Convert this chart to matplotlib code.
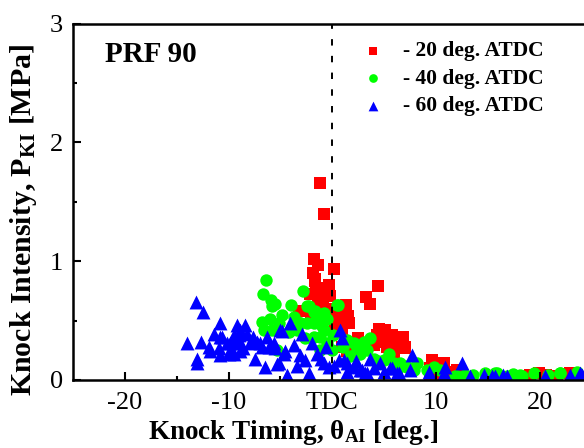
## Import
import matplotlib

matplotlib.use("Agg")
import matplotlib.pyplot as plt
import numpy as np

### Constants
plt.rcParams["font.family"] = ["Liberation Serif", "DejaVu Serif"]
plt.rcParams["mathtext.fontset"] = "custom"
plt.rcParams["mathtext.rm"] = "Liberation Serif"
plt.rcParams["mathtext.bf"] = "Liberation Serif:bold"
plt.rcParams["mathtext.it"] = "Liberation Serif:italic"

## Data (knock timing [deg], knock intensity [MPa])
red_x = [-1.16, -0.80, -1.80, -1.35, 0.12, -1.85, -1.65, 4.45, 3.28, 3.65,
         -1.57, -1.10, -0.36, -0.19, -2.15, -1.35, 1.30, 0.55, 1.55, 1.65,
         -3.20, -2.10, 0.64, -1.64, 4.53, 4.34, 5.79, 5.50, 6.78, 7.04,
         4.73, 5.91, 4.44, 5.27, 3.98, 0.93, 1.41, 5.11, 5.37, 6.88,
         9.61, 9.38, 10.73, 10.90, 9.45, 10.41, 12.02, 11.70, 9.93, 19.10,
         19.90, 22.95, 18.80, 21.70, -0.60, 0.30, 2.50, 4.95, 4.63, 12.0,
         -0.90, 0.90, 6.20, 10.10, 20.60]
red_y = [1.66, 1.40, 1.02, 0.97, 0.93, 0.90, 0.85, 0.79, 0.70, 0.64,
         0.76, 0.77, 0.80, 0.71, 0.72, 0.67, 0.63, 0.56, 0.54, 0.48,
         0.58, 0.53, 0.50, 0.83, 0.43, 0.38, 0.38, 0.31, 0.36, 0.28,
         0.32, 0.22, 0.37, 0.28, 0.29, 0.28, 0.24, 0.42, 0.32, 0.27,
         0.17, 0.10, 0.14, 0.07, 0.03, 0.10, 0.08, 0.04, 0.08, 0.04,
         0.06, 0.06, 0.01, 0.03, 0.60, 0.45, 0.35, 0.38, 0.32, 0.07,
         0.62, 0.40, 0.30, 0.05, 0.04]

green_x = [-6.36, -6.72, -5.91, -5.50, -5.80, -2.83, -3.98, -2.22, -1.80, -1.16,
           -0.51, 0.51, -6.78, -5.98, -4.85, -5.18, -5.82, -6.62, -3.73, -3.09,
           -3.40, -2.44, -1.80, -0.84, -1.16, -1.80, -0.51, -0.03, -1.16, -5.33,
           1.41, 2.05, 3.02, 3.66, 2.38, 3.35, 1.74, 5.43, 4.95, 5.91,
           7.20, 8.17, 7.84, 6.24, 9.77, 10.41, -2.44, 0.45, -1.64, -0.84,
           -1.80, -1.00, -3.09, 3.98, 6.56, 9.13, 12.02, 14.92, 15.88, 16.85,
           18.13, 19.42, 21.99, 23.60, 11.86, 12.83, 14.75, 15.70, 18.30, 22.00,
           -4.20, -2.60, 0.10, 1.00, 2.70, 4.40, 7.00, 13.60, 17.40, 20.80]
green_y = [0.84, 0.72, 0.67, 0.64, 0.62, 0.75, 0.63, 0.62, 0.57, 0.55,
           0.51, 0.63, 0.49, 0.51, 0.55, 0.48, 0.42, 0.42, 0.53, 0.48,
           0.42, 0.48, 0.48, 0.42, 0.36, 0.36, 0.31, 0.25, 0.25, 0.25,
           0.34, 0.31, 0.32, 0.35, 0.25, 0.25, 0.20, 0.22, 0.17, 0.14,
           0.11, 0.14, 0.08, 0.08, 0.11, 0.08, 0.62, 0.63, 0.58, 0.56,
           0.49, 0.45, 0.48, 0.18, 0.14, 0.08, 0.03, 0.04, 0.06, 0.03,
           0.04, 0.06, 0.06, 0.07, 0.03, 0.04, 0.06, 0.06, 0.03, 0.06,
           0.40, 0.35, 0.38, 0.28, 0.22, 0.16, 0.12, 0.04, 0.05, 0.04]

blue_x = [-13.10, -12.50, -14.00, -12.70, -13.05, -13.05, -11.90, -11.45, -10.87, -10.80,
          -10.96, -10.80, -9.84, -9.84, -9.52, -9.19, -8.87, -8.39, -8.23, -8.87,
          -9.52, -8.87, -7.43, -6.46, -5.33, -4.37, -6.94, -6.30, -5.66, -4.70,
          -4.05, -11.76, -10.64, -9.03, -10.15, -10.00, -7.91, -7.26, -6.78, -6.14,
          -5.50, -5.18, -4.85, -5.00, -2.92, -3.73, -4.53, -3.09, -1.96, -2.60,
          -1.48, -0.84, -0.36, 0.77, 0.93, 0.61, 1.41, 2.05, 2.70, 3.66,
          4.63, 4.95, -2.28, 1.41, 3.18, 1.09, 2.86, 3.34, 5.76, 6.24,
          7.69, 5.59, 6.39, 7.52, 9.29, 10.90, 10.73, 12.50, 13.30, 14.60,
          15.40, 16.50, 20.50, 22.95, 24.10, 15.70, 16.85, 23.90, -4.37,
          -9.30, -8.60, -7.60, -3.40, -1.10, 0.20, -0.60, 2.30, 4.00]
blue_y = [0.66, 0.57, 0.31, 0.32, 0.18, 0.14, 0.28, 0.39, 0.48, 0.36,
          0.27, 0.21, 0.25, 0.31, 0.38, 0.46, 0.42, 0.46, 0.39, 0.31,
          0.22, 0.24, 0.18, 0.11, 0.13, 0.03, 0.31, 0.36, 0.31, 0.22,
          0.48, 0.24, 0.36, 0.38, 0.31, 0.22, 0.31, 0.32, 0.28, 0.28,
          0.27, 0.14, 0.41, 0.42, 0.39, 0.29, 0.24, 0.21, 0.31, 0.17,
          0.22, 0.14, 0.11, 0.42, 0.35, 0.17, 0.14, 0.11, 0.08, 0.18,
          0.14, 0.07, 0.06, 0.07, 0.06, 0.17, 0.08, 0.06, 0.10, 0.06,
          0.21, 0.10, 0.06, 0.08, 0.07, 0.11, 0.06, 0.14, 0.03, 0.04,
          0.03, 0.04, 0.03, 0.04, 0.04, 0.03, 0.03, 0.06, 0.04,
          0.34, 0.27, 0.36, 0.12, 0.18, 0.12, 0.28, 0.16, 0.10]

labels = ["- 20 deg. ATDC", "- 40 deg. ATDC", "- 60 deg. ATDC"]
xtick_vals = [-20, -10, 0, 10, 20]
xtick_labels = ["-20", "-10", "TDC", "10", "20"]
ytick_vals = [0, 1, 2, 3]

## Plot
fig = plt.figure(figsize=(5.84, 4.48), dpi=100)
# axes runs slightly past the right edge of the figure (as in the original crop)
ax = fig.add_axes([0.125, 0.152, 0.888, 0.795])

ax.scatter(red_x, red_y, marker="s", s=68, color="#ff0000", linewidths=0, label=labels[0])
ax.scatter(green_x, green_y, marker="o", s=80, color="#00ff00", linewidths=0, label=labels[1])
ax.scatter(blue_x, blue_y, marker="^", s=100, color="#0000ff", linewidths=0, label=labels[2])

ax.axvline(0, color="k", lw=1.4, dashes=(3.3, 5.3), zorder=1)

ax.set_xlim(-25, 25)
ax.set_ylim(0, 3)
ax.set_xticks(xtick_vals)
ax.set_xticklabels(xtick_labels)
ax.set_xticks([-15, -5, 5, 15], minor=True)
ax.set_yticks(ytick_vals)
ax.set_yticklabels([str(v) for v in ytick_vals])
ax.set_yticks([0.5, 1.5, 2.5], minor=True)
ax.tick_params(which="both", direction="in", width=1.5, labelsize=19)
ax.tick_params(which="major", length=6)
ax.tick_params(which="minor", length=3)
ax.tick_params(axis="x", pad=9)
ax.tick_params(axis="y", pad=7)
for sp in ax.spines.values():
    sp.set_linewidth(1.8)

ax.set_xlabel(r"Knock Timing, $\mathbf{\theta_{AI}}$ [deg.]", fontsize=19.5, fontweight="bold")
ax.xaxis.set_label_coords(0.424, -0.108)
ax.set_ylabel(r"Knock Intensity, P$_{\mathbf{KI}}$ [MPa]", fontsize=21.5, fontweight="bold")
ax.yaxis.set_label_coords(-0.066, 0.45)

ax.text(0.062, 0.893, "PRF 90", transform=ax.transAxes, fontsize=21, fontweight="bold")

leg = ax.legend(
    loc="upper left",
    bbox_to_anchor=(0.62, 0.908),
    bbox_transform=fig.transFigure,
    frameon=False,
    prop={"size": 15.5, "weight": "bold"},
    handlelength=1.0,
    handletextpad=0.9,
    labelspacing=0.35,
    borderpad=0,
    borderaxespad=0,
    markerscale=0.7,
)

plt.savefig("out.png", dpi=100)
